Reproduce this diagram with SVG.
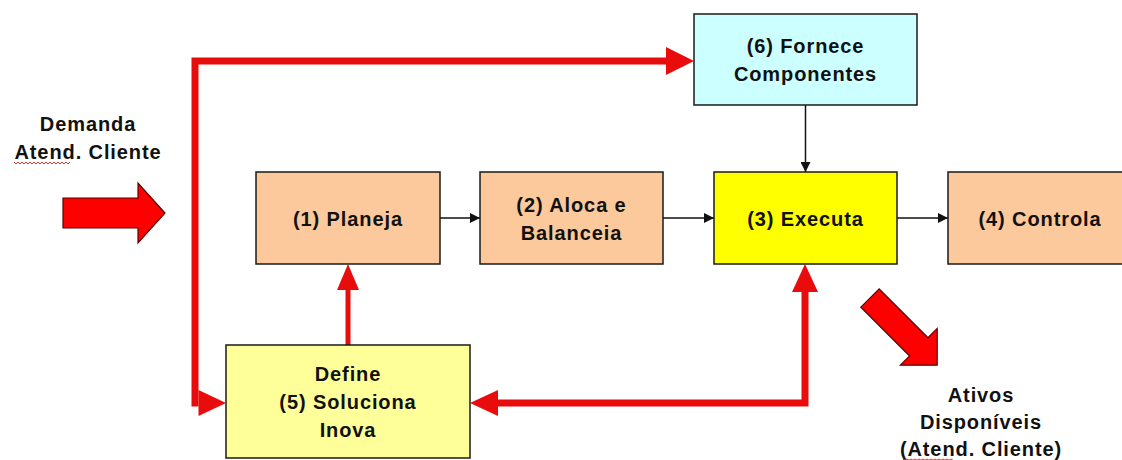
<svg xmlns="http://www.w3.org/2000/svg" width="1122" height="460" viewBox="0 0 1122 460">
<defs>
<style>
.box{stroke:#1a1a1a;stroke-width:1.5}
.peach{fill:#FBC99B}
.yellow{fill:#FFFF00}
.ltyellow{fill:#FFFF99}
.cyan{fill:#CCFFFF}
text{font-family:"Liberation Sans",Arial,sans-serif;font-weight:bold;font-size:20px;fill:#111;text-anchor:middle;letter-spacing:0.9px}
.red{stroke:#E80C0C;fill:none;stroke-linecap:butt;stroke-linejoin:miter}
.blk{stroke:#111;stroke-width:1.5;fill:none}
.redhead{fill:#E80C0C}
.blkhead{fill:#111}
.block{fill:#FF0000;stroke:#5a0000;stroke-width:1.2}
.squig{fill:none;stroke:#d33;stroke-width:1}
</style>
<marker id="ah" viewBox="0 0 10 10" refX="10" refY="5" markerWidth="10" markerHeight="10" markerUnits="userSpaceOnUse" orient="auto">
<path d="M0,0 L10,5 L0,10 Z" class="blkhead"/>
</marker>
</defs>

<g id="connectors">
<line class="blk" x1="440" y1="218" x2="480" y2="218" marker-end="url(#ah)"/>
<line class="blk" x1="663" y1="218" x2="714" y2="218" marker-end="url(#ah)"/>
<line class="blk" x1="897" y1="218" x2="948" y2="218" marker-end="url(#ah)"/>
<line class="blk" x1="805.5" y1="105" x2="805.5" y2="172" marker-end="url(#ah)"/>
<polyline class="red" stroke-width="7" points="667,61 195,61 195,406.5"/>
<polygon class="redhead" points="666,47 694,61 666,75"/>
<polygon class="redhead" points="198.5,390 226,403 198.5,416"/>
<polyline class="red" stroke-width="7" points="497,403 805,403 805,291"/>
<polygon class="redhead" points="498,390 470,403 498,416"/>
<polygon class="redhead" points="792,292 805,264 818,292"/>
<line class="red" stroke-width="5" x1="348" y1="345" x2="348" y2="288"/>
<polygon class="redhead" points="337,290 348,264 359,290"/>
</g>

<g id="demanda">
<text x="88" y="131">Demanda</text>
<text x="88" y="159">Atend. Cliente</text>
<path class="squig" d="M14,162 l2,2 l2,-2 l2,2 l2,-2 l2,2 l2,-2 l2,2 l2,-2 l2,2 l2,-2 l2,2 l2,-2 l2,2 l2,-2 l2,2 l2,-2 l2,2 l2,-2 l2,2 l2,-2 l2,2 l2,-2 l2,2 l2,-2 l2,2 l2,-2 l2,2 l2,-2"/>
<polygon class="block" points="63,198 138,198 138,183 165,213 138,243 138,228 63,228"/>
</g>

<g id="node6">
<rect class="box cyan" x="694" y="14" width="223" height="91"/>
<text x="805.5" y="53">(6) Fornece</text>
<text x="805.5" y="81">Componentes</text>
</g>

<g id="node1">
<rect class="box peach" x="256" y="172" width="184" height="92"/>
<text x="348" y="226">(1) Planeja</text>
</g>

<g id="node2">
<rect class="box peach" x="480" y="172" width="183" height="92"/>
<text x="571.5" y="212">(2) Aloca e</text>
<text x="571.5" y="240">Balanceia</text>
</g>

<g id="node3">
<rect class="box yellow" x="714" y="172" width="183" height="92"/>
<text x="805.5" y="226">(3) Executa</text>
</g>

<g id="node4">
<rect class="box peach" x="948" y="172" width="190" height="92"/>
<text x="1040" y="226">(4) Controla</text>
</g>

<g id="node5">
<rect class="box ltyellow" x="226" y="345" width="244" height="113"/>
<text x="348" y="381">Define</text>
<text x="348" y="409">(5) Soluciona</text>
<text x="348" y="437">Inova</text>
</g>

<g id="ativos">
<polygon class="block" points="879.2,288.8 928,337.6 937.2,328.4 937.2,365.2 900.4,365.2 909.6,356 860.8,307.2"/>
<text x="981" y="402">Ativos</text>
<text x="981" y="429">Disponíveis</text>
<text x="981" y="456">(Atend. Cliente)</text>
<path class="squig" d="M903,459 l2,1.2 l2,-1.2 l2,1.2 l2,-1.2 l2,1.2 l2,-1.2 l2,1.2 l2,-1.2 l2,1.2 l2,-1.2 l2,1.2 l2,-1.2 l2,1.2 l2,-1.2 l2,1.2 l2,-1.2 l2,1.2 l2,-1.2 l2,1.2 l2,-1.2 l2,1.2 l2,-1.2 l2,1.2 l2,-1.2 l2,1.2"/>
</g>
</svg>
